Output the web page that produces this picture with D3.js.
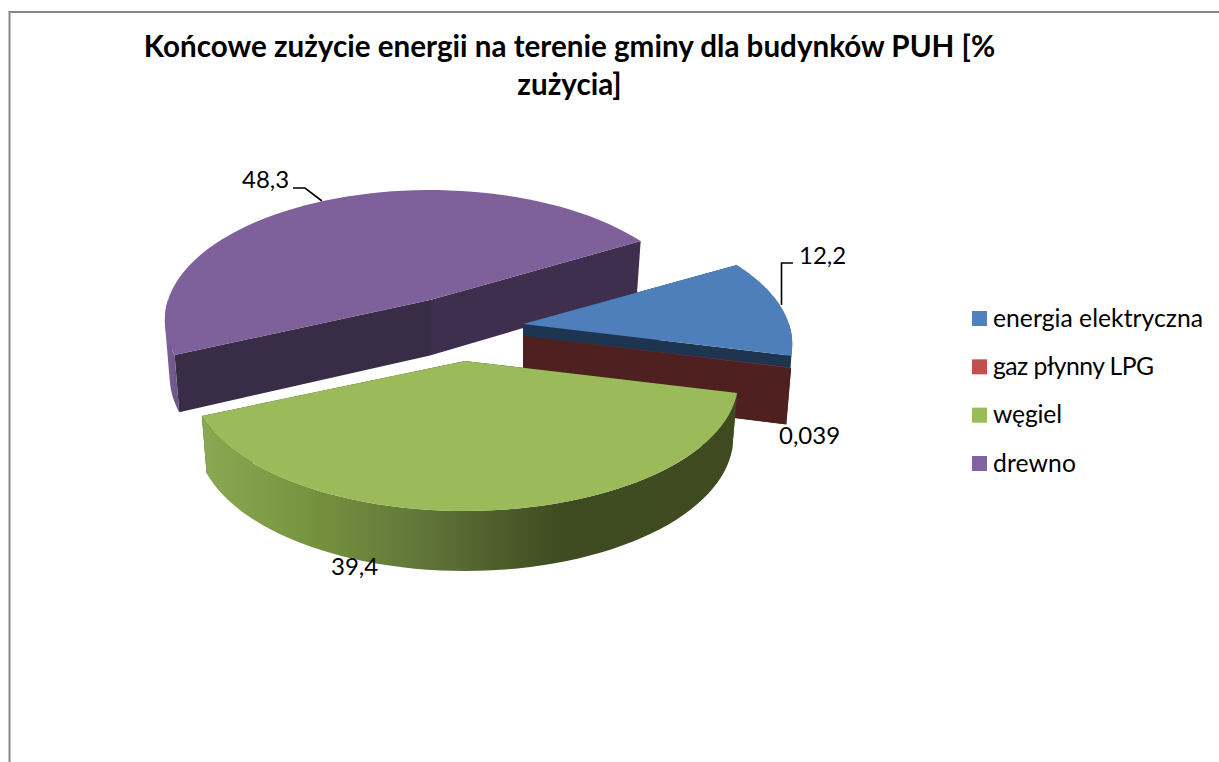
<!DOCTYPE html>
<html><head><meta charset="utf-8">
<script src="https://cdnjs.cloudflare.com/ajax/libs/d3/7.8.5/d3.min.js"></script>
<style>html,body{margin:0;padding:0;background:#fff;overflow:hidden}svg{display:block}text{font-family:Lato,"Noto Sans",sans-serif;fill:#000}</style>
</head><body><svg id="c" width="1219" height="762"></svg>
<script>
const categories = ["energia elektryczna","gaz płynny LPG","węgiel","drewno"];
const values = [12.2,0.039,39.4,48.3];
const valueLabels = ["12,2","0,039","39,4","48,3"];
const titleLines = ["Końcowe zużycie energii na terenie gminy dla budynków PUH [%","zużycia]"];
const legendColors = ["#4F81BD","#C0504D","#9BBB59","#8064A2"];
const topColors = ["#4E7FBB","#BE504D","#9BBA59","#7E619B"];
const faceStartColors = ["#1D3550","#4F2020","#3F4A21","#392C47"];
const faceEndColors = ["#1D3550","#4F2020","#3F4A21","#3F2F4E"];
const apexX = [523,523,465,430];
const apexY = [324,336,361,300];
const radii = [266,266,270,262];
const legendTextWidths = [210,161,69,83];

const svg = d3.select("#c");
const A=126.9, P=0.154, DEPTH=55.5, DEPTH_K=0.03, SHRINK=0.982;
const pie = d3.pie().sort(null).startAngle(60*Math.PI/180).endAngle((60+360)*Math.PI/180);
const arcs = pie(values);

function proj(i,theta,r,bottom){
  const X=r*Math.sin(theta), Y=-r*Math.cos(theta), s=1/(1-P*Y);
  let sx=radii[i]*X*s, sy=A*Y*s;
  if(bottom){ const d=DEPTH+DEPTH_K*sy; sx*=SHRINK; sy+=d; }
  return [apexX[i]+sx, apexY[i]+sy];
}
const line=d3.line();
const thetas=(a,b)=>d3.range(0,61).map(k=>a+(b-a)*k/60);
// the outer wall can only be seen on the half of the disc that faces the viewer
const FRONT_FROM=Math.PI/2, FRONT_TO=3*Math.PI/2;

const defs=svg.append("defs");
const gGreen=defs.append("linearGradient").attr("id","wall2").attr("gradientUnits","userSpaceOnUse").attr("x1",202).attr("x2",736).attr("y1",0).attr("y2",0);
[[0,"#8BA953"],[0.2,"#76933F"],[0.4,"#62783A"],[0.67,"#3F4B21"],[1,"#3F4A20"]].forEach(s=>gGreen.append("stop").attr("offset",s[0]).attr("stop-color",s[1]));
const gPurple=defs.append("linearGradient").attr("id","wall3").attr("gradientUnits","userSpaceOnUse").attr("x1",166).attr("x2",182).attr("y1",0).attr("y2",0);
[[0,"#7C609A"],[1,"#64507E"]].forEach(s=>gPurple.append("stop").attr("offset",s[0]).attr("stop-color",s[1]));
const wallFill=["#1D3550","#4F2020","url(#wall2)","url(#wall3)"];

// chart frame
svg.append("path").attr("d","M9.5 762V12H1219").attr("fill","none").attr("stroke","#888").attr("stroke-width",2);

// slices: paint order purple, blue, red, green
[3,0,1,2].forEach(i=>{
  const a=arcs[i], g=svg.append("g");
  const ts=thetas(a.startAngle,a.endAngle);
  [[a.startAngle,faceStartColors[i]],[a.endAngle,faceEndColors[i]]].forEach(([t,c])=>{
    g.append("path").attr("d",line([proj(i,t,0,false),proj(i,t,1,false),proj(i,t,1,true),proj(i,t,0,true)])+"Z").attr("fill",c);
  });
  const w0=Math.max(a.startAngle,FRONT_FROM), w1=Math.min(a.endAngle,FRONT_TO);
  if(w1>w0){
    const wt=thetas(w0,w1);
    let d="";
    wt.slice(1).forEach((t,k)=>{
      const p=wt[k];
      let quad=[proj(i,p,1,false),proj(i,t,1,false),proj(i,t,1,true),proj(i,p,1,true)];
      if(d3.polygonArea(quad)<0) quad=quad.reverse();
      d+=line(quad)+"Z";
    });
    g.append("path").attr("d",d).attr("fill",wallFill[i]);
  }
  const top=[proj(i,0,0,false),...ts.map(t=>proj(i,t,1,false))];
  g.append("path").attr("d",line(top)+"Z").attr("fill",topColors[i]);
});

// leader lines
svg.append("path").attr("d",line([[781.5,305],[781.5,263],[793,263]])).attr("fill","none").attr("stroke","#000").attr("stroke-width",1.6);
svg.append("path").attr("d",line([[293,188],[305,188],[322,201]])).attr("fill","none").attr("stroke","#000").attr("stroke-width",1.6);

// value labels
const labelX=[799,779,331,242], labelY=[264,444,575,188];
valueLabels.forEach((t,i)=>svg.append("text").attr("x",labelX[i]).attr("y",labelY[i]).attr("font-size",24).text(t));

// title
const titleY=[57,95];
titleLines.forEach((t,i)=>svg.append("text").attr("x",569.5).attr("y",titleY[i]).attr("text-anchor","middle").attr("font-size",29.6).attr("font-weight",700).text(t));

// legend
const ly=d3.scalePoint().domain(categories).range([318.5,463.5]);
categories.forEach((c,i)=>{
  svg.append("rect").attr("x",972).attr("y",ly(c)-7.5).attr("width",15).attr("height",15).attr("fill",legendColors[i]);
  svg.append("text").attr("x",993).attr("y",ly(c)+8).attr("font-size",24.7).attr("textLength",legendTextWidths[i]).text(c);
});
</script></body></html>
